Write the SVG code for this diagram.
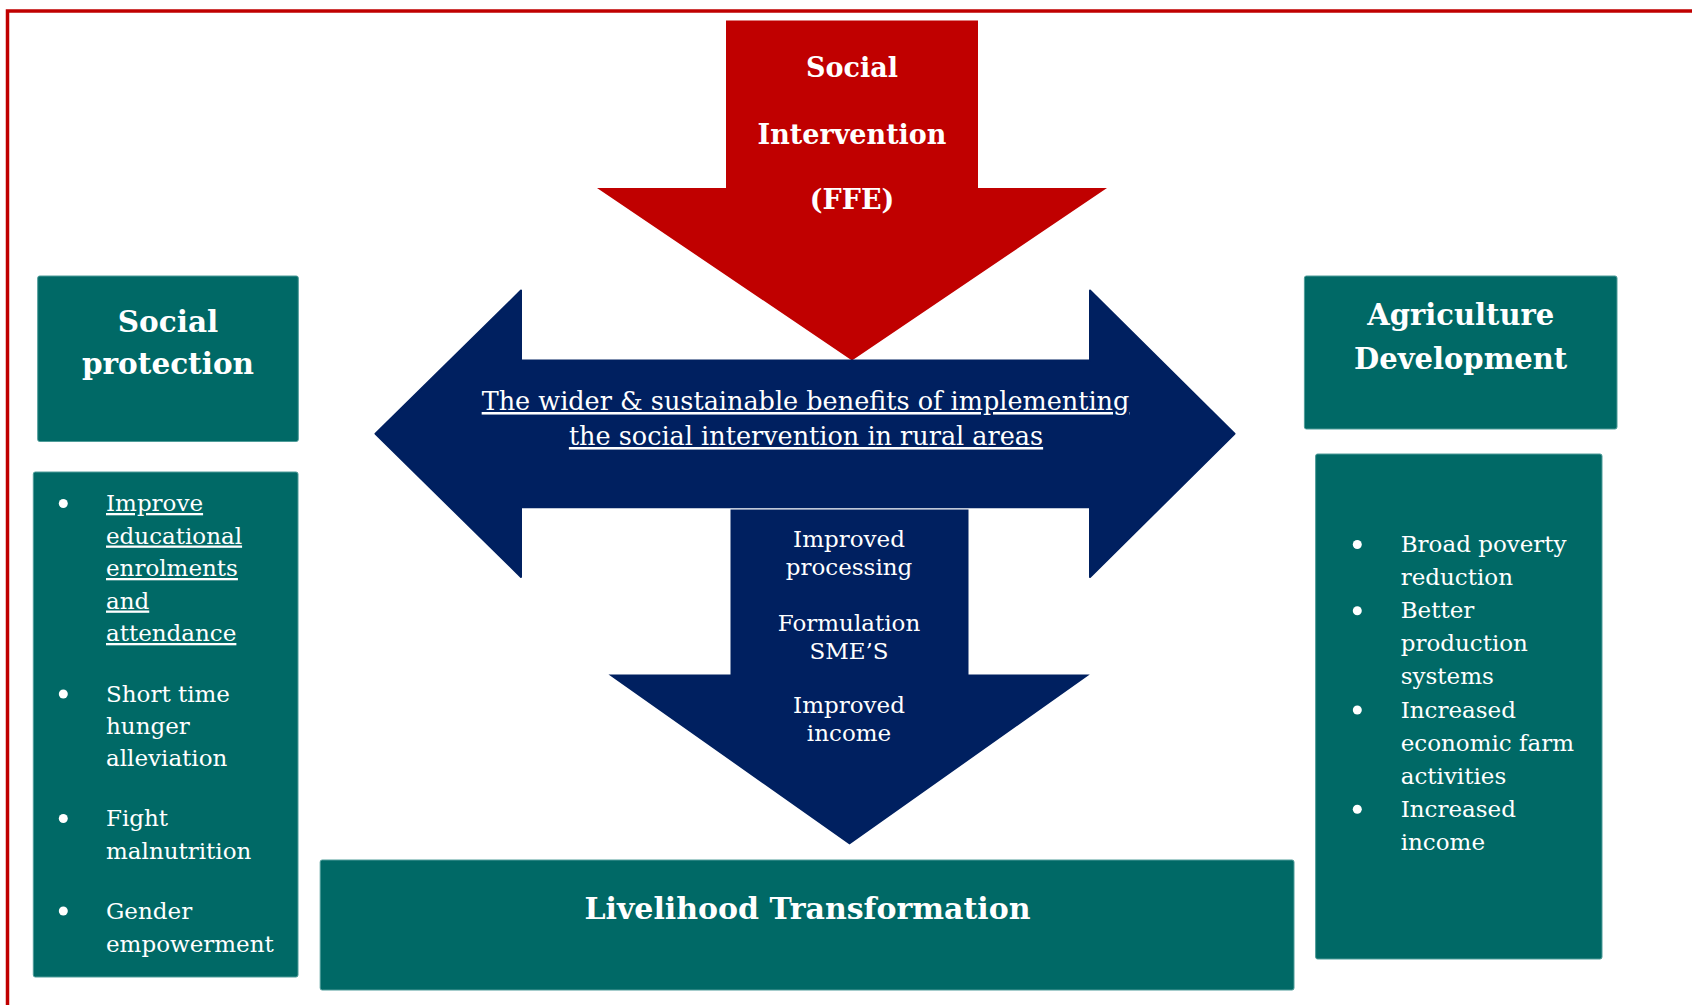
<svg xmlns="http://www.w3.org/2000/svg" width="1692" height="1005" viewBox="0 0 1692 1005">
  <style>
    .box { fill: #006966; stroke: #4E9C99; stroke-width: 1; }
    .head { font-family: "DejaVu Serif", "Liberation Serif", serif; font-weight: bold; font-size: 29px; fill: #FFFFFF; text-anchor: middle; }
    .body { font-family: "DejaVu Serif", "Liberation Serif", serif; font-size: 23px; fill: #FFFFFF; }
    .mid { text-anchor: middle; }
    .ul { text-decoration: underline; }
    .dot { fill: #FFFFFF; }
  </style>

  <rect width="1692" height="1005" fill="#FFFFFF"/>

  <!-- outer red frame, running off the right and bottom edges -->
  <path d="M7.5,1010 V11 H1700" fill="none" stroke="#C00000" stroke-width="3.5"/>

  <!-- arrows -->
  <g id="connectors">
    <g id="arrow-intervention">
      <polygon points="726,20.5 978,20.5 978,188 1107,188 852,360.5 597,188 726,188" fill="#C00000"/>
      <text class="head" style="font-size:27px" x="852" y="77">Social</text>
      <text class="head" style="font-size:27px" x="852" y="144">Intervention</text>
      <text class="head" style="font-size:27px" x="852" y="209">(FFE)</text>
    </g>
    <g id="arrow-benefits">
      <polygon points="375.5,433.8 521,290.5 521,360.5 1090,360.5 1090,290.5 1234.5,433.8 1090,577 1090,507.2 521,507.2 521,577" fill="#002060" stroke="#002060" stroke-width="2" stroke-linejoin="round"/>
      <text class="body mid ul" style="font-size:25.5px" x="805.5" y="410">The wider &amp; sustainable benefits of implementing</text>
      <text class="body mid ul" style="font-size:25.5px" x="806" y="445">the social intervention in rural areas</text>
    </g>
    <g id="arrow-outcomes">
      <polygon points="730.5,509.5 968.5,509.5 968.5,674.5 1089.8,674.5 849.5,844.5 608.5,674.5 730.5,674.5" fill="#002060"/>
      <text class="body mid" x="849" y="547">Improved</text>
      <text class="body mid" x="849" y="575">processing</text>
      <text class="body mid" x="849" y="631">Formulation</text>
      <text class="body mid" x="849" y="659">SME’S</text>
      <text class="body mid" x="849" y="713">Improved</text>
      <text class="body mid" x="849" y="741">income</text>
    </g>
  </g>

  <!-- Social protection heading -->
  <g id="social-protection">
    <rect class="box" x="37.7" y="276" width="260.6" height="165.5" rx="2"/>
    <text class="head" style="font-size:29.5px" x="168" y="331.5">Social</text>
    <text class="head" style="font-size:29.5px" x="168" y="374">protection</text>
  </g>

  <!-- Social protection list -->
  <g id="social-protection-list">
    <rect class="box" x="33.3" y="472" width="264.7" height="505" rx="2"/>
    <circle class="dot" cx="63.3" cy="503.5" r="4.5"/>
    <text class="body ul" x="106" y="511">Improve</text>
    <text class="body ul" x="106" y="543.5">educational</text>
    <text class="body ul" x="106" y="576">enrolments</text>
    <text class="body ul" x="106" y="608.5">and</text>
    <text class="body ul" x="106" y="641">attendance</text>
    <circle class="dot" cx="63.3" cy="694" r="4.5"/>
    <text class="body" x="106" y="701.7">Short time</text>
    <text class="body" x="106" y="734">hunger</text>
    <text class="body" x="106" y="766.3">alleviation</text>
    <circle class="dot" cx="63.3" cy="818.5" r="4.5"/>
    <text class="body" x="106" y="826.3">Fight</text>
    <text class="body" x="106" y="858.8">malnutrition</text>
    <circle class="dot" cx="63.3" cy="911" r="4.5"/>
    <text class="body" x="106" y="918.7">Gender</text>
    <text class="body" x="106" y="951.5">empowerment</text>
  </g>

  <!-- Agriculture Development heading -->
  <g id="agriculture-development">
    <rect class="box" x="1304.4" y="276" width="312.6" height="153" rx="2"/>
    <text class="head" x="1460.7" y="325">Agriculture</text>
    <text class="head" x="1460.7" y="369.3">Development</text>
  </g>

  <!-- Agriculture Development list -->
  <g id="agriculture-list">
    <rect class="box" x="1315.6" y="454" width="286.4" height="505" rx="2"/>
    <circle class="dot" cx="1357.3" cy="544.5" r="4.5"/>
    <text class="body" x="1400.7" y="552">Broad poverty</text>
    <text class="body" x="1400.7" y="585.1">reduction</text>
    <circle class="dot" cx="1357.3" cy="610.7" r="4.5"/>
    <text class="body" x="1400.7" y="618.2">Better</text>
    <text class="body" x="1400.7" y="651.3">production</text>
    <text class="body" x="1400.7" y="684.4">systems</text>
    <circle class="dot" cx="1357.3" cy="710" r="4.5"/>
    <text class="body" x="1400.7" y="717.5">Increased</text>
    <text class="body" x="1400.7" y="750.6">economic farm</text>
    <text class="body" x="1400.7" y="783.7">activities</text>
    <circle class="dot" cx="1357.3" cy="809.3" r="4.5"/>
    <text class="body" x="1400.7" y="816.8">Increased</text>
    <text class="body" x="1400.7" y="849.9">income</text>
  </g>

  <!-- Livelihood Transformation -->
  <g id="livelihood-transformation">
    <rect class="box" x="320.2" y="860" width="973.8" height="130" rx="2"/>
    <text class="head" style="font-size:30px" x="807.5" y="919.3">Livelihood Transformation</text>
  </g>
</svg>
